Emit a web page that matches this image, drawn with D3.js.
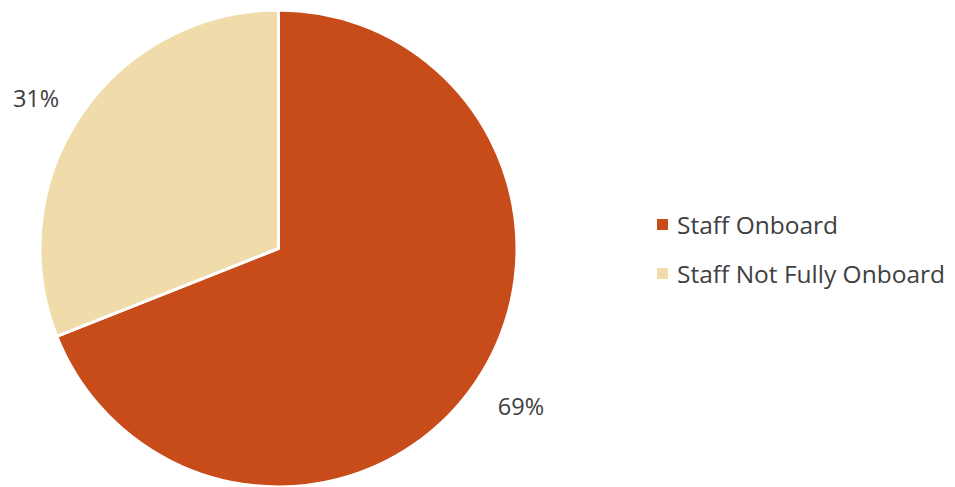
<!DOCTYPE html>
<html><head><meta charset="utf-8">
<script src="https://cdn.jsdelivr.net/npm/d3@7"></script>
<style>html,body{margin:0;padding:0;background:#fff;}</style>
</head><body>
<svg id="chart" width="955" height="487"></svg>
<script>
const categories = ["Staff Onboard", "Staff Not Fully Onboard"];
const values = [69, 31];
const colors = ["#C84B1A", "#F0DCAA"];

const svg = d3.select("#chart");
const cx = 278.5, cy = 248.5, r = 238.5;
const font = "'Open Sans', sans-serif";
const textColor = "#404040";

const pie = d3.pie().sort(null).value(d => d)(values);
const arc = d3.arc().innerRadius(0).outerRadius(r);
const labelR = r * 1.205;

const g = svg.append("g").attr("transform", `translate(${cx},${cy})`);
g.selectAll("path").data(pie).join("path")
  .attr("d", arc)
  .attr("fill", (d, i) => colors[i])
  .attr("stroke", "#fff")
  .attr("stroke-width", 3)
  .attr("stroke-linejoin", "miter");

g.selectAll("text.lbl").data(pie).join("text")
  .attr("class", "lbl")
  .attr("transform", d => {
    const a = (d.startAngle + d.endAngle) / 2 - 0.03;
    return `translate(${labelR * Math.sin(a)},${-labelR * Math.cos(a) + 3.5})`;
  })
  .attr("text-anchor", "middle")
  .attr("dominant-baseline", "central")
  .attr("font-family", font)
  .attr("font-size", 23.5)
  .attr("fill", textColor)
  .text(d => Math.round(d.data) + "%");

const legend = svg.append("g");
const ly = d3.scalePoint().domain(categories).range([224.5, 273.5]);
categories.forEach((c, i) => {
  legend.append("rect")
    .attr("x", 657).attr("y", ly(c) - 5.5)
    .attr("width", 11).attr("height", 11)
    .attr("fill", colors[i]);
  legend.append("text")
    .attr("x", 677).attr("y", ly(c))
    .attr("dominant-baseline", "central")
    .attr("font-family", font)
    .attr("font-size", 24.5)
    .attr("fill", textColor)
    .text(c);
});
</script>
</body></html>
